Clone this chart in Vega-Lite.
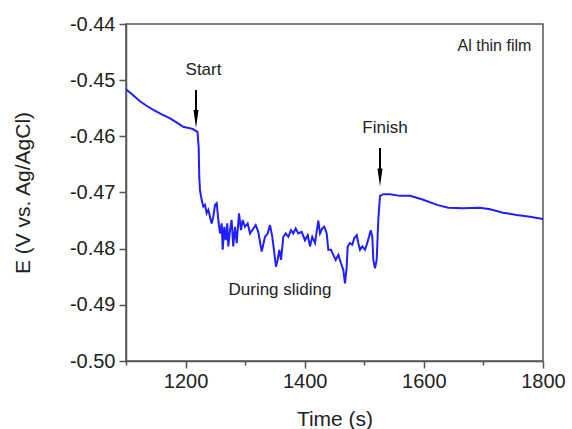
{
  "$schema": "https://vega.github.io/schema/vega-lite/v6.json",
  "width": 417,
  "height": 337,
  "autosize": "none",
  "padding": {"left": 126, "top": 24, "right": 29, "bottom": 68},
  "background": "white",
  "config": {
    "font": "Liberation Sans",
    "view": {"stroke": "#555", "strokeWidth": 1.5},
    "axis": {"grid": false, "domainColor": "#555", "domainWidth": 1.5, "tickColor": "#555", "tickWidth": 1.5, "labelColor": "#222", "titleColor": "#222", "labelFontSize": 20, "titleFontSize": 21, "titleFontWeight": "normal", "labelFont": "Liberation Sans", "titleFont": "Liberation Sans"}
  },
  "datasets": {
    "series": [
      {"t": 1100, "E": -0.4516}, {"t": 1112, "E": -0.4527}, {"t": 1124, "E": -0.4538}, {"t": 1135, "E": -0.4546},
      {"t": 1146, "E": -0.4553}, {"t": 1160, "E": -0.4561}, {"t": 1174, "E": -0.4568}, {"t": 1186, "E": -0.4576},
      {"t": 1196, "E": -0.4583}, {"t": 1205, "E": -0.4585}, {"t": 1212, "E": -0.4587}, {"t": 1220, "E": -0.4592},
      {"t": 1222, "E": -0.4620}, {"t": 1223, "E": -0.4672}, {"t": 1224.2, "E": -0.4696}, {"t": 1227, "E": -0.4713},
      {"t": 1229.8, "E": -0.4725}, {"t": 1232.6, "E": -0.4722}, {"t": 1235.4, "E": -0.4737}, {"t": 1238.2, "E": -0.4731},
      {"t": 1241, "E": -0.4743}, {"t": 1243.8, "E": -0.4755}, {"t": 1246.6, "E": -0.4743}, {"t": 1249.4, "E": -0.4722},
      {"t": 1252.3, "E": -0.4719}, {"t": 1255, "E": -0.4749}, {"t": 1257.8, "E": -0.4773}, {"t": 1260.7, "E": -0.4755},
      {"t": 1262.3, "E": -0.4802}, {"t": 1265, "E": -0.4761}, {"t": 1267.4, "E": -0.4785}, {"t": 1270, "E": -0.4755},
      {"t": 1271.7, "E": -0.4796}, {"t": 1274.6, "E": -0.4767}, {"t": 1277.3, "E": -0.4749}, {"t": 1280, "E": -0.4796},
      {"t": 1283, "E": -0.4761}, {"t": 1285.8, "E": -0.4790}, {"t": 1289.7, "E": -0.4737}, {"t": 1293, "E": -0.4767},
      {"t": 1295.9, "E": -0.4749}, {"t": 1299.8, "E": -0.4761}, {"t": 1304.3, "E": -0.4755}, {"t": 1308.2, "E": -0.4773},
      {"t": 1313.7, "E": -0.4764}, {"t": 1317.7, "E": -0.4758}, {"t": 1322, "E": -0.4770}, {"t": 1327.8, "E": -0.4805},
      {"t": 1333.3, "E": -0.4779}, {"t": 1337.8, "E": -0.4773}, {"t": 1341.7, "E": -0.4758}, {"t": 1345.6, "E": -0.4779},
      {"t": 1349, "E": -0.4808}, {"t": 1351.8, "E": -0.4832}, {"t": 1354.6, "E": -0.4820}, {"t": 1357.4, "E": -0.4802},
      {"t": 1360.2, "E": -0.4820}, {"t": 1364.1, "E": -0.4779}, {"t": 1368.1, "E": -0.4773}, {"t": 1372.5, "E": -0.4779},
      {"t": 1377, "E": -0.4767}, {"t": 1380.8, "E": -0.4773}, {"t": 1384.9, "E": -0.4764}, {"t": 1389.2, "E": -0.4773},
      {"t": 1394.9, "E": -0.4770}, {"t": 1400.5, "E": -0.4785}, {"t": 1405, "E": -0.4776}, {"t": 1408.9, "E": -0.4796},
      {"t": 1412.7, "E": -0.4779}, {"t": 1417.3, "E": -0.4790}, {"t": 1422.8, "E": -0.4750}, {"t": 1425.7, "E": -0.4773},
      {"t": 1429.5, "E": -0.4764}, {"t": 1432.9, "E": -0.4761}, {"t": 1436.9, "E": -0.4773}, {"t": 1439.6, "E": -0.4802},
      {"t": 1444.2, "E": -0.4802}, {"t": 1448, "E": -0.4811}, {"t": 1452, "E": -0.4820}, {"t": 1456.4, "E": -0.4811},
      {"t": 1460.9, "E": -0.4826}, {"t": 1464.8, "E": -0.4838}, {"t": 1467.6, "E": -0.4862}, {"t": 1470.5, "E": -0.4832},
      {"t": 1472.1, "E": -0.4796}, {"t": 1476, "E": -0.4790}, {"t": 1479.9, "E": -0.4793}, {"t": 1483.2, "E": -0.4781},
      {"t": 1487.3, "E": -0.4776}, {"t": 1490, "E": -0.4790}, {"t": 1492.8, "E": -0.4802}, {"t": 1496.7, "E": -0.4796},
      {"t": 1501.2, "E": -0.4802}, {"t": 1504.1, "E": -0.4793}, {"t": 1507.9, "E": -0.4779}, {"t": 1510.8, "E": -0.4767},
      {"t": 1513.5, "E": -0.4779}, {"t": 1515.2, "E": -0.4820}, {"t": 1518, "E": -0.4835}, {"t": 1520.8, "E": -0.4820},
      {"t": 1523.5, "E": -0.4749}, {"t": 1526.4, "E": -0.4706}, {"t": 1532, "E": -0.4703}, {"t": 1543, "E": -0.4703},
      {"t": 1560, "E": -0.4706}, {"t": 1577, "E": -0.4706}, {"t": 1599, "E": -0.4713}, {"t": 1622, "E": -0.4722},
      {"t": 1641, "E": -0.4727}, {"t": 1666, "E": -0.4728}, {"t": 1694, "E": -0.4727}, {"t": 1711, "E": -0.4730},
      {"t": 1733, "E": -0.4736}, {"t": 1756, "E": -0.4740}, {"t": 1778, "E": -0.4743}, {"t": 1800, "E": -0.4747}
    ],
    "arrows": [
      {"t": 1217.5, "top": -0.45175, "bottom": -0.4557, "head": -0.45691},
      {"t": 1526.4, "top": -0.46208, "bottom": -0.4660, "head": -0.46731}
    ],
    "labels": [
      {"t": 1230.1, "E": -0.44819, "text": "Start"},
      {"t": 1534.8, "E": -0.45857, "text": "Finish"},
      {"t": 1358.5, "E": -0.48736, "text": "During sliding"}
    ],
    "corner": [
      {"t": 1780.4, "E": -0.44383, "text": "Al thin film"}
    ]
  },
  "layer": [
    {
      "data": {"name": "series"},
      "mark": {"type": "line", "color": "#1f1fff", "strokeWidth": 2, "clip": true},
      "encoding": {
        "x": {"field": "t", "type": "quantitative", "title": "Time (s)",
          "scale": {"domain": [1100, 1800], "nice": false, "zero": false},
          "axis": {"values": [1100, 1200, 1300, 1400, 1500, 1600, 1700, 1800],
            "labelExpr": "datum.value % 200 == 0 && datum.value > 1100 ? datum.value + '' : ''",
            "tickSize": {"condition": {"test": "datum.value % 200 == 0", "value": 7}, "value": 4},
            "labelPadding": 3, "titlePadding": 17, "labelFlush": false}},
        "y": {"field": "E", "type": "quantitative", "title": "E (V vs. Ag/AgCl)",
          "scale": {"domain": [-0.5, -0.44], "nice": false, "zero": false},
          "axis": {"values": [-0.5, -0.495, -0.49, -0.485, -0.48, -0.475, -0.47, -0.465, -0.46, -0.455, -0.45, -0.445, -0.44],
            "labelExpr": "abs(datum.value*100 - round(datum.value*100)) < 0.01 ? replace(format(datum.value, '.2f'), '\u2212', '-') : ''",
            "tickSize": {"condition": {"test": "abs(datum.value*100 - round(datum.value*100)) < 0.01", "value": 7}, "value": 4},
            "labelPadding": 4, "titlePadding": 36, "labelFlush": false}}
      }
    },
    {
      "data": {"name": "arrows"},
      "mark": {"type": "rule", "color": "black", "strokeWidth": 2},
      "encoding": {
        "x": {"field": "t", "type": "quantitative"},
        "y": {"field": "top", "type": "quantitative"},
        "y2": {"field": "bottom"}
      }
    },
    {
      "data": {"name": "arrows"},
      "mark": {"type": "point", "shape": "M-0.28,-1L0.28,-1L0,1Z", "size": 324, "filled": true, "color": "black", "opacity": 1},
      "encoding": {
        "x": {"field": "t", "type": "quantitative"},
        "y": {"field": "head", "type": "quantitative"}
      }
    },
    {
      "data": {"name": "labels"},
      "mark": {"type": "text", "fontSize": 17, "color": "#222", "align": "center", "baseline": "middle", "font": "Liberation Sans"},
      "encoding": {
        "x": {"field": "t", "type": "quantitative"},
        "y": {"field": "E", "type": "quantitative"},
        "text": {"field": "text"}
      }
    },
    {
      "data": {"name": "corner"},
      "mark": {"type": "text", "fontSize": 16, "color": "#222", "align": "right", "baseline": "middle", "font": "Liberation Sans"},
      "encoding": {
        "x": {"field": "t", "type": "quantitative"},
        "y": {"field": "E", "type": "quantitative"},
        "text": {"field": "text"}
      }
    }
  ]
}
